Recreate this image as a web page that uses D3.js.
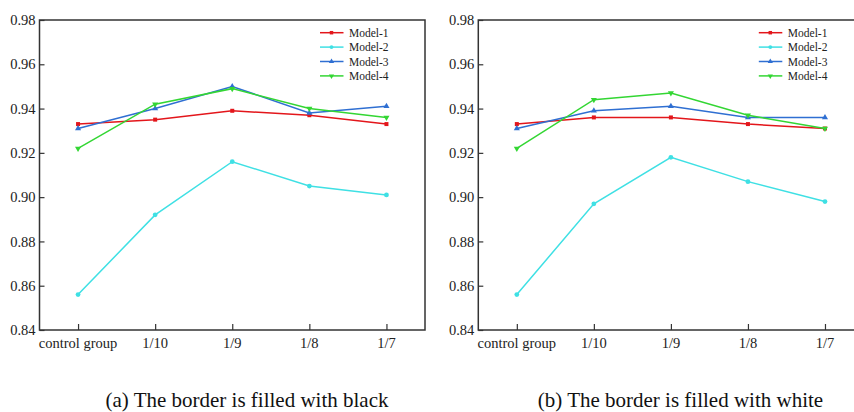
<!DOCTYPE html>
<html>
<head>
<meta charset="utf-8">
<script src="https://cdn.jsdelivr.net/npm/d3@7"></script>
<style>
  body { margin: 0; background: #fff; }
  svg { display: block; }
</style>
</head>
<body>
<div id="chart"></div>
<script>
// categories on the x axis
const categories = ["control group", "1/10", "1/9", "1/8", "1/7"];
const seriesNames = ["Model-1", "Model-2", "Model-3", "Model-4"];
const yTicks = [0.84, 0.86, 0.88, 0.90, 0.92, 0.94, 0.96, 0.98];

// (a) border filled with black
const blackModel1 = [0.933, 0.935, 0.939, 0.937, 0.933];
const blackModel2 = [0.856, 0.892, 0.916, 0.905, 0.901];
const blackModel3 = [0.931, 0.940, 0.950, 0.938, 0.941];
const blackModel4 = [0.922, 0.942, 0.949, 0.940, 0.936];

// (b) border filled with white
const whiteModel1 = [0.933, 0.936, 0.936, 0.933, 0.931];
const whiteModel2 = [0.856, 0.897, 0.918, 0.907, 0.898];
const whiteModel3 = [0.931, 0.939, 0.941, 0.936, 0.936];
const whiteModel4 = [0.922, 0.944, 0.947, 0.937, 0.931];

const colors = ["#e3161b", "#3fe0e4", "#2f6fd2", "#33d633"];
const symbols = [d3.symbolSquare, d3.symbolCircle, d3.symbolTriangle, d3.symbolTriangle];
const serif = "Liberation Serif";

const width = 854, height = 412;
const plotTop = 20, plotBottom = 330;

const svg = d3.select("#chart").append("svg")
    .attr("width", width)
    .attr("height", height);

const panels = [
    {left: 39.5, right: 425, captionX: 247, caption: "(a) The border is filled with black",
     series: [blackModel1, blackModel2, blackModel3, blackModel4]},
    {left: 478.3, right: 863.5, captionX: 680.5, caption: "(b) The border is filled with white",
     series: [whiteModel1, whiteModel2, whiteModel3, whiteModel4]}
];

panels.forEach(function(p) {
    let g = svg.append("g");

    let x = d3.scalePoint()
        .domain(categories)
        .range([p.left, p.right])
        .padding(0.5);

    let y = d3.scaleLinear()
        .domain([0.84, 0.98])
        .range([plotBottom, plotTop]);

    // frame
    g.append("rect")
        .attr("x", p.left)
        .attr("y", plotTop)
        .attr("width", p.right - p.left)
        .attr("height", plotBottom - plotTop)
        .attr("fill", "none")
        .attr("stroke", "#333")
        .attr("stroke-width", 1.5);

    // y axis, inward ticks
    let yAxis = d3.axisRight(y)
        .tickValues(yTicks)
        .tickSize(5)
        .tickFormat("");
    g.append("g")
        .attr("transform", "translate(" + p.left + ",0)")
        .call(yAxis)
        .call(a => a.select(".domain").remove())
        .selectAll("line").attr("stroke", "#333").attr("stroke-width", 1.2);

    g.selectAll(".ylab")
        .data(yTicks)
        .enter().append("text")
        .attr("x", p.left - 4)
        .attr("y", d => y(d))
        .attr("dy", "0.35em")
        .attr("text-anchor", "end")
        .attr("font-family", serif)
        .attr("font-size", "14.5px")
        .attr("fill", "#222")
        .text(d3.format(".2f"));

    // x axis, inward ticks
    let xAxis = d3.axisTop(x)
        .tickSize(6)
        .tickFormat("");
    g.append("g")
        .attr("transform", "translate(0," + plotBottom + ")")
        .call(xAxis)
        .call(a => a.select(".domain").remove())
        .selectAll("line").attr("stroke", "#333").attr("stroke-width", 1.2);

    g.selectAll(".xlab")
        .data(categories)
        .enter().append("text")
        .attr("x", d => x(d))
        .attr("y", 348)
        .attr("text-anchor", "middle")
        .attr("font-family", serif)
        .attr("font-size", "14.5px")
        .attr("fill", "#222")
        .text(d => d);

    // lines and markers
    let line = d3.line()
        .x((d, i) => x(categories[i]))
        .y(d => y(d));

    p.series.forEach(function(values, s) {
        g.append("path")
            .datum(values)
            .attr("d", line)
            .attr("fill", "none")
            .attr("stroke", colors[s])
            .attr("stroke-width", 1.5);

        g.selectAll(".m" + s)
            .data(values)
            .enter().append("path")
            .attr("transform", (d, i) => "translate(" + x(categories[i]) + "," + y(d) + ")" + (s === 3 ? " rotate(180)" : ""))
            .attr("d", d3.symbol().type(symbols[s]).size(s === 1 ? 18 : 16))
            .attr("fill", colors[s]);
    });

    // legend
    let legend = g.append("g");
    seriesNames.forEach(function(name, s) {
        let ly = plotTop + 12.7 + s * 14.4;
        legend.append("line")
            .attr("x1", p.left + 280.5)
            .attr("x2", p.left + 304)
            .attr("y1", ly)
            .attr("y2", ly)
            .attr("stroke", colors[s])
            .attr("stroke-width", 1.5);
        legend.append("path")
            .attr("transform", "translate(" + (p.left + 292) + "," + ly + ")" + (s === 3 ? " rotate(180)" : ""))
            .attr("d", d3.symbol().type(symbols[s]).size(12))
            .attr("fill", colors[s]);
        legend.append("text")
            .attr("x", p.left + 309.5)
            .attr("y", ly)
            .attr("dy", "0.35em")
            .attr("font-family", serif)
            .attr("font-size", "11.5px")
            .attr("fill", "#222")
            .text(name);
    });

    // caption
    g.append("text")
        .attr("x", p.captionX)
        .attr("y", 407)
        .attr("text-anchor", "middle")
        .attr("font-family", serif)
        .attr("font-size", "21px")
        .attr("fill", "#111")
        .text(p.caption);
});
</script>
</body>
</html>
